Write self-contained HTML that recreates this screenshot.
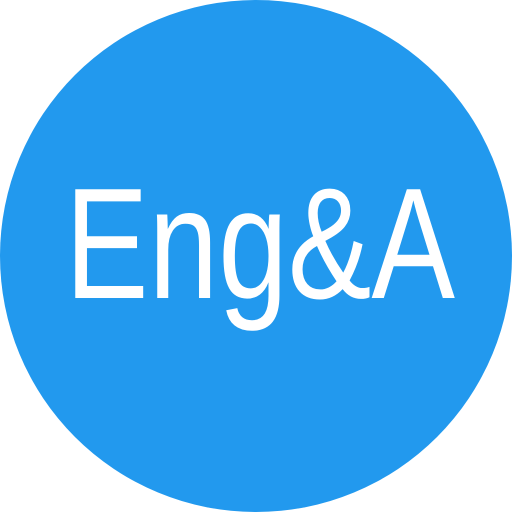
<!DOCTYPE html>
<html>
<head>
<style>
  html,body{margin:0;padding:0;background:#fff;}
  svg{display:block;}
</style>
</head>
<body>
<svg width="512" height="512" viewBox="0 0 512 512">
  <circle cx="256" cy="256" r="256" fill="#2299ee"/>
  <text x="65" y="298" textLength="390" lengthAdjust="spacingAndGlyphs"
        font-family="'Liberation Sans', sans-serif" font-size="158" fill="#ffffff"
       >Eng&amp;A</text>
</svg>
</body>
</html>
